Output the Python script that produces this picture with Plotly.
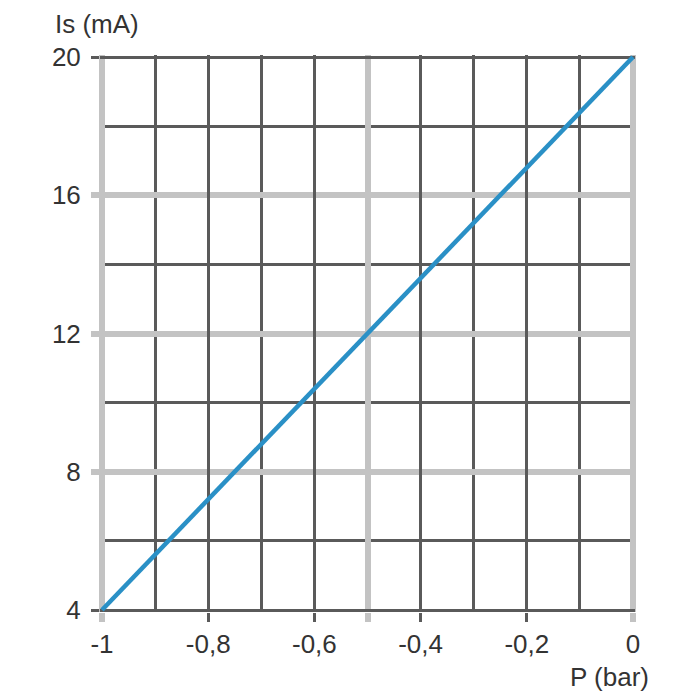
import plotly.graph_objects as go

# Data
pressure_bar = [-1.0, 0.0]
current_ma = [4.0, 20.0]

x_major_vals = [-1.0, -0.5, 0.0]
x_major_text = ["-1", "", "0"]
x_label_vals = [-0.8, -0.6, -0.4, -0.2]
x_label_text = ["-0,8", "-0,6", "-0,4", "-0,2"]
x_minor_vals = [-0.9, -0.7, -0.3, -0.1]

y_major_vals = [8, 12, 16]
y_major_text = ["8", "12", "16"]
y_edge_vals = [4, 20]
y_edge_text = ["4", "20"]
y_minor_vals = [6, 10, 14, 18]

GRAY = "#c3c3c3"
DARK = "#5a5a5a"
TXT = "#333333"
FONT = dict(family="Liberation Sans, Arial, sans-serif", size=26, color=TXT)

W = H = 692
L, R, T, B = 92, 65, 47, 88
PW = W - L - R
PH = H - T - B
OFF = 8  # page body margin

# small padding so the edge gridlines are not dropped
dx = 2.0 * 1.0 / (PW - 4)
dy = 2.0 * 16.0 / (PH - 4)
xr = [-1.0 - dx, 0.0 + dx]
yr = [4 - dy, 20 + dy]

fig = go.Figure()
fig.add_trace(go.Scatter(x=pressure_bar, y=current_ma, mode="lines",
                         line=dict(color="#2a90c6", width=4.5),
                         xaxis="x", yaxis="y", showlegend=False,
                         cliponaxis=False))
fig.add_trace(go.Scatter(x=[None], y=[None], xaxis="x2", yaxis="y2", showlegend=False,
                         hoverinfo="skip"))

fig.update_layout(
    width=W, height=H,
    margin=dict(l=L, r=R, t=T, b=B),
    paper_bgcolor="white", plot_bgcolor="white",
    font=FONT,
    xaxis=dict(range=xr, tickmode="array", tickvals=x_major_vals, ticktext=x_major_text,
               showgrid=True, gridcolor=GRAY, gridwidth=6, zeroline=False, showline=False,
               ticks="outside", ticklen=9, tickwidth=6, tickcolor=GRAY,
               tickfont=FONT, fixedrange=True),
    xaxis2=dict(range=xr, overlaying="x", side="bottom", anchor="y",
                tickmode="array", tickvals=x_label_vals, ticktext=x_label_text,
                showgrid=True, gridcolor=DARK, gridwidth=2.5, zeroline=False, showline=False,
                ticks="outside", ticklen=9, tickwidth=2.5, tickcolor=DARK, tickfont=FONT,
                minor=dict(tickmode="array", tickvals=x_minor_vals, showgrid=True,
                           gridcolor=DARK, gridwidth=2.5, ticks="")),
    yaxis=dict(range=yr, tickmode="array", tickvals=y_major_vals, ticktext=y_major_text,
               showgrid=True, gridcolor=GRAY, gridwidth=6, zeroline=False, showline=False,
               ticks="outside", ticklen=8, tickwidth=6, tickcolor=GRAY, tickfont=FONT,
               ticklabelstandoff=5, fixedrange=True),
    yaxis2=dict(range=yr, overlaying="y", side="left", anchor="x",
                tickmode="array", tickvals=y_edge_vals, ticktext=y_edge_text,
                showgrid=True, gridcolor=DARK, gridwidth=2.5, zeroline=False, showline=False,
                ticks="outside", ticklen=8, tickwidth=2.5, tickcolor=DARK, tickfont=FONT,
                ticklabelstandoff=5,
                minor=dict(tickmode="array", tickvals=y_minor_vals, showgrid=True,
                           gridcolor=DARK, gridwidth=2.5, ticks="")),
)


def to_paper(px, py):
    return (px - OFF - L) / PW, 1 - (py - OFF - T) / PH


ax1, ay1 = to_paper(97, 24)
ax2, ay2 = to_paper(609, 677)
fig.add_annotation(text="Is (mA)", x=ax1, y=ay1, xref="paper", yref="paper",
                   xanchor="center", yanchor="middle",
                   showarrow=False, font=FONT)
fig.add_annotation(text="P (bar)", x=ax2, y=ay2, xref="paper", yref="paper",
                   xanchor="center", yanchor="middle",
                   showarrow=False, font=FONT)

fig.write_html("out.html")
